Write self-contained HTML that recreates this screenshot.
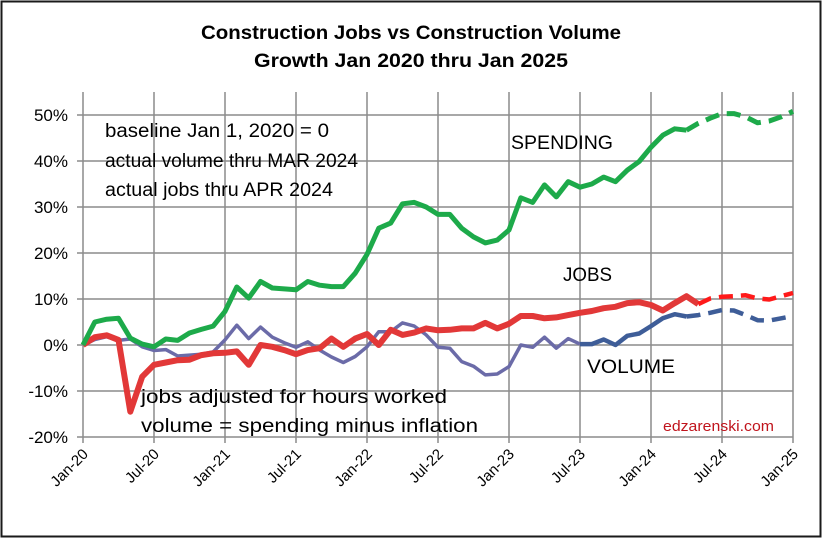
<!DOCTYPE html>
<html><head><meta charset="utf-8"><style>
html,body{margin:0;padding:0;background:#fff;}
svg{display:block;font-family:"Liberation Sans",sans-serif;}
</style></head><body>
<svg id="chart" width="822" height="539" viewBox="0 0 822 539">
<rect x="1.5" y="1.5" width="819" height="535" fill="#fff" stroke="#1a1a1a" stroke-width="2"/>
<text x="411" y="39" text-anchor="middle" font-size="19" font-weight="bold" textLength="420" lengthAdjust="spacingAndGlyphs">Construction Jobs vs Construction Volume</text>
<text x="411" y="67" text-anchor="middle" font-size="19" font-weight="bold" textLength="314" lengthAdjust="spacingAndGlyphs">Growth Jan 2020 thru Jan 2025</text>
<g id="grid"></g>
<g id="axes"></g>
<g id="series"></g>
<g font-size="19" fill="#000">
<text x="105" y="137" textLength="224" lengthAdjust="spacingAndGlyphs">baseline Jan 1, 2020 = 0</text>
<text x="105" y="167" textLength="253" lengthAdjust="spacingAndGlyphs">actual volume thru MAR 2024</text>
<text x="105" y="196" textLength="228" lengthAdjust="spacingAndGlyphs">actual jobs thru APR 2024</text>
<text x="511" y="149" textLength="102" lengthAdjust="spacingAndGlyphs">SPENDING</text>
<text x="563" y="281" textLength="49" lengthAdjust="spacingAndGlyphs">JOBS</text>
<text x="587" y="373" textLength="88" lengthAdjust="spacingAndGlyphs">VOLUME</text>
<text x="141" y="403" textLength="306" lengthAdjust="spacingAndGlyphs">jobs adjusted for hours worked</text>
<text x="141" y="432" textLength="337" lengthAdjust="spacingAndGlyphs">volume = spending minus inflation</text>
<text x="663" y="431" font-size="15" fill="#c0141c" textLength="111" lengthAdjust="spacingAndGlyphs">edzarenski.com</text>
</g>
</svg>
<script>
const months = ["Jan-20","Jul-20","Jan-21","Jul-21","Jan-22","Jul-22","Jan-23","Jul-23","Jan-24","Jul-24","Jan-25"];
const yTicks = [-20,-10,0,10,20,30,40,50];
const spending = [0,5,5.6,5.8,1.5,0.2,-0.4,1.3,1.0,2.6,3.4,4.1,7.3,12.6,10.2,13.8,12.4,12.2,12,13.8,13,12.7,12.7,15.6,19.7,25.4,26.5,30.7,31,30,28.4,28.4,25.4,23.5,22.2,22.8,25,32,31,34.8,32.2,35.5,34.3,35,36.5,35.5,38,39.9,43,45.6,47,46.7,48.2,49.3,50.3,50.3,49.6,48.3,48.7,49.6,50.8];
const jobs = [0,1.7,2.1,1.1,-14.5,-6.9,-4.3,-3.8,-3.3,-3.2,-2.2,-1.8,-1.7,-1.4,-4.3,0,-0.4,-1.1,-2,-1.1,-0.7,1.4,-0.4,1.4,2.4,0,3.3,2.2,2.7,3.6,3.2,3.3,3.6,3.6,4.8,3.6,4.6,6.3,6.3,5.8,6,6.5,7,7.4,8,8.3,9.1,9.3,8.7,7.5,9.1,10.6,8.9,10.1,10.5,10.6,10.8,10.1,9.9,10.6,11.3];
const volume = [0,1.2,1.8,1.0,1.3,-0.4,-1.2,-1,-2.4,-2.2,-2,-1.5,1.1,4.3,1.4,3.9,1.7,0.5,-0.5,0.7,-1.1,-2.6,-3.8,-2.5,-0.4,2.9,2.9,4.8,4.1,2.2,-0.5,-0.7,-3.6,-4.6,-6.5,-6.3,-4.7,0,-0.5,1.7,-0.7,1.4,0.2,0.2,1.2,0,2,2.5,4.1,5.8,6.7,6.2,6.5,7,7.6,7.5,6.5,5.4,5.3,5.8,6.3];
const spendingActualEnd = 51, jobsActualEnd = 52, volumeActualEnd = 51, volumeColorChange = 42;

const X0=83, X1=793, Y0=345, PX=4.6, PTOP=92, PBOT=437, N=60;
const xs = i => X0 + (X1-X0)*i/N;
const ys = v => Y0 - v*PX;
const NS="http://www.w3.org/2000/svg";
function mk(tag, parent){const e=document.createElementNS(NS,tag);parent.appendChild(e);return e;}
const grid=document.getElementById('grid'), axes=document.getElementById('axes'), ser=document.getElementById('series');

yTicks.forEach(t=>{
  const l=mk('line',grid);
  l.setAttribute('x1',X0-6);l.setAttribute('x2',X1);l.setAttribute('y1',ys(t));l.setAttribute('y2',ys(t));
  l.setAttribute('stroke','#8c8c8c');l.setAttribute('stroke-width','1.5');
  
  
  const tx=mk('text',axes);
  tx.setAttribute('x',68);tx.setAttribute('y',ys(t)+6);tx.setAttribute('text-anchor','end');tx.setAttribute('font-size','17');
  tx.textContent=t+'%';
  
  
});
months.forEach((m,k)=>{
  const x=xs(k*6);
  const l=mk('line',grid);
  l.setAttribute('x1',x);l.setAttribute('x2',x);l.setAttribute('y1',PTOP);l.setAttribute('y2',PBOT+6);
  l.setAttribute('stroke','#8c8c8c');l.setAttribute('stroke-width','1.5');
  
  
  const tx=mk('text',axes);
  tx.setAttribute('transform','translate('+(x+6)+',455) rotate(-45)');
  tx.setAttribute('text-anchor','end');tx.setAttribute('font-size','15');
  tx.textContent=m;
  
  
});

function path(arr,a,b,color,w,dash,name){
  let d='';
  for(let i=a;i<=b;i++){d+=(i===a?'M':'L')+xs(i).toFixed(1)+','+ys(arr[i]).toFixed(1);}
  const p=mk('path',ser);
  p.setAttribute('d',d);p.setAttribute('fill','none');p.setAttribute('stroke',color);
  p.setAttribute('stroke-width',w);p.setAttribute('stroke-linejoin','round');
  if(dash){p.setAttribute('stroke-dasharray',dash);}
  
  
}
path(volume,0,volumeColorChange,'#6b6ba8',3.5,null,'volume-line-actual');
path(volume,volumeColorChange,volumeActualEnd,'#3e5d98',4.5,null,'volume-line-recent');
path(volume,volumeActualEnd,N,'#3e5d98',4.5,'14,8','volume-line-forecast');
path(jobs,0,jobsActualEnd,'#e23838',6,null,'jobs-line-actual');
path(jobs,jobsActualEnd,N,'#ff1a1a',4.5,'14,8','jobs-line-forecast');
path(spending,0,spendingActualEnd,'#1daa4a',5,null,'spending-line-actual');
path(spending,spendingActualEnd,N,'#1daa4a',5,'14,8','spending-line-forecast');
</script>
</body></html>
